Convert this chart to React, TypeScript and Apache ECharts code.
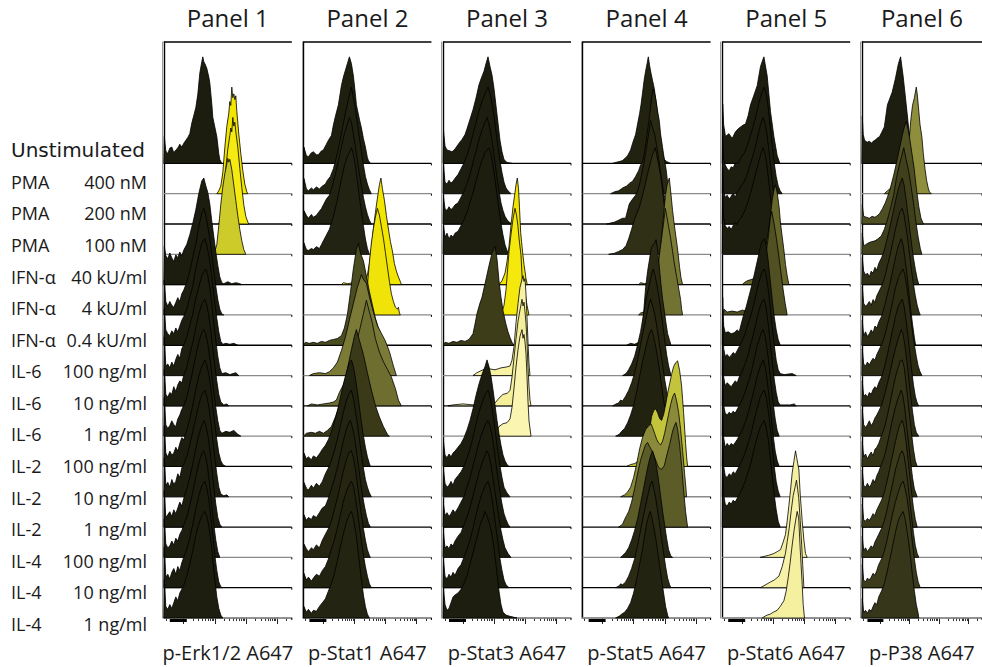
import React, { useEffect, useRef } from "react";
import * as echarts from "echarts";

// ---------------- texts ----------------
const PANEL_TITLES = ["Panel 1", "Panel 2", "Panel 3", "Panel 4", "Panel 5", "Panel 6"];
const AXIS_NAMES = ["p-Erk1/2 A647", "p-Stat1 A647", "p-Stat3 A647", "p-Stat5 A647", "p-Stat6 A647", "p-P38 A647"];
const ROW_NAMES = ["Unstimulated", "PMA", "PMA", "PMA", "IFN-α", "IFN-α", "IFN-α", "IL-6", "IL-6", "IL-6", "IL-2", "IL-2", "IL-2", "IL-4", "IL-4", "IL-4"];
const ROW_DOSES = ["", "400 nM", "200 nM", "100 nM", "40 kU/ml", "4 kU/ml", "0.4 kU/ml", "100 ng/ml", "10 ng/ml", "1 ng/ml", "100 ng/ml", "10 ng/ml", "1 ng/ml", "100 ng/ml", "10 ng/ml", "1 ng/ml"];

// ---------------- axis ticks (channel units) ----------------
const MAJOR_TICKS = [19.8, 51, 82.2, 113.3];
const MINOR_TICKS = [2, 29.2, 34.7, 38.6, 41.6, 44.1, 46.1, 48.0, 49.5, 60.4, 65.9, 69.8, 72.8, 75.3, 77.3, 79.2, 80.7, 91.6, 97.1, 101.0, 104.0, 106.5, 108.5, 110.4, 111.9, 122.7];
const ZERO_BAND = [6, 23];

// ---------------- histograms: [channel, count, channel, count, ...] per row ----------------
const P1 = [
  [0,0, 0.5,28, 2,13, 4,10, 6,16, 8,17, 10,11, 12,14, 14,16, 16,20, 18,17, 20,21, 22,24, 24,27, 26,31, 28,42, 30,50, 32,58, 34,72, 36,94, 38,106, 39,111, 40,106, 41,104, 43,99, 45,90, 46,84, 48,62, 49,48, 51,38, 53,28, 55,10, 56,4, 58,0],
  [53,0, 55,3, 57,8, 59,22, 61,48, 63,70, 65,84, 66,96, 67,92, 68,111, 69,100, 70,104, 71,98, 72,102, 73,86, 75,62, 77,42, 79,24, 81,10, 83,2, 84,0],
  [55,0, 58,10, 60,30, 62,58, 64,78, 66,92, 67,100, 68,96, 69,111, 70,102, 71,106, 72,96, 74,80, 76,58, 78,38, 80,20, 82,8, 84,2, 85,0],
  [50,0, 51,3, 53,10, 55,30, 57,52, 59,70, 61,84, 63,94, 64,100, 65,96, 66,99, 68,88, 70,72, 72,56, 74,40, 76,26, 78,14, 80,5, 82,0],
  [0,0, 0.5,40, 2,30, 4,27, 6,33, 8,28, 10,24, 12,31, 14,28, 16,34, 18,30, 20,36, 23,42, 26,52, 29,64, 32,78, 35,95, 38,108, 40,111, 42,103, 44,96, 46,84, 48,66, 50,50, 52,34, 54,20, 56,8, 58,2, 60,1, 64,3, 68,1, 72,2, 76,1, 78,0],
  [0,0, 0.5,36, 2,14, 4,9, 6,14, 8,10, 10,8, 12,13, 14,18, 16,14, 18,22, 20,26, 23,34, 26,46, 29,60, 32,74, 35,92, 38,106, 40,111, 42,104, 44,92, 46,80, 48,62, 50,46, 52,30, 54,16, 56,6, 58,1, 60,0],
  [0,0, 0.5,38, 2,16, 4,12, 6,10, 8,15, 10,12, 12,18, 14,14, 16,20, 18,26, 20,30, 23,38, 26,50, 29,62, 32,80, 35,94, 38,106, 41,111, 43,104, 45,94, 47,80, 49,62, 51,44, 53,28, 55,14, 57,4, 59,1, 62,2, 66,1, 70,2, 74,0],
  [0,0, 0.5,40, 2,10, 4,12, 6,8, 8,14, 10,10, 12,17, 14,22, 16,18, 18,28, 20,32, 23,40, 26,52, 29,64, 32,80, 35,92, 38,104, 40,108, 42,111, 44,104, 46,92, 48,74, 50,54, 52,36, 54,20, 56,8, 58,2, 62,3, 66,1, 72,3, 75,0],
  [0,0, 0.5,38, 2,12, 4,9, 6,14, 8,12, 10,20, 12,15, 14,22, 16,26, 18,24, 20,32, 23,40, 26,54, 29,66, 32,82, 35,96, 38,106, 41,111, 43,105, 45,94, 47,78, 49,60, 51,42, 53,26, 55,12, 57,4, 60,1, 63,2, 65,0],
  [0,0, 0.5,40, 2,12, 4,8, 6,11, 8,16, 10,12, 12,10, 14,18, 16,22, 18,28, 20,32, 23,40, 26,54, 29,68, 32,84, 35,98, 38,108, 40,111, 42,106, 44,96, 46,82, 48,64, 50,46, 52,30, 54,16, 56,6, 58,3, 62,5, 66,4, 70,6, 74,2, 77,0],
  [0,0, 0.5,42, 2,14, 4,10, 6,16, 8,12, 10,14, 12,20, 14,16, 16,24, 18,30, 20,28, 23,38, 26,50, 29,64, 32,80, 35,94, 38,104, 41,111, 43,106, 45,96, 47,82, 49,62, 51,44, 53,28, 55,14, 57,6, 59,2, 62,0],
  [0,0, 0.5,40, 2,12, 4,15, 6,10, 8,18, 10,13, 12,16, 14,24, 16,20, 18,30, 20,34, 23,42, 26,54, 29,68, 32,82, 35,96, 38,106, 41,111, 43,104, 45,94, 47,78, 49,58, 51,40, 53,24, 55,10, 57,3, 60,1, 63,2, 65,0],
  [0,0, 0.5,38, 2,10, 4,13, 6,16, 8,11, 10,18, 12,14, 14,20, 16,26, 18,22, 20,30, 23,40, 26,52, 29,66, 32,82, 35,96, 38,106, 40,111, 42,106, 44,96, 46,82, 48,62, 50,42, 52,24, 54,10, 56,3, 58,0],
  [0,0, 0.5,40, 2,14, 4,10, 6,12, 8,17, 10,13, 12,20, 14,17, 16,24, 18,28, 20,34, 23,42, 26,54, 29,68, 32,84, 35,98, 38,108, 40,111, 42,104, 44,92, 46,74, 48,54, 50,34, 52,18, 54,6, 56,0],
  [0,0, 0.5,42, 2,11, 4,14, 6,9, 8,16, 10,20, 12,14, 14,22, 16,18, 18,26, 20,32, 23,40, 26,52, 29,66, 32,82, 35,96, 38,106, 41,111, 43,104, 45,92, 47,74, 49,54, 51,34, 53,18, 55,6, 57,1, 59,0],
  [0,0, 0.5,40, 2,12, 4,9, 6,14, 8,10, 10,16, 12,22, 14,18, 16,26, 18,30, 20,34, 23,44, 26,56, 29,70, 32,86, 35,98, 38,106, 41,111, 43,106, 45,96, 47,80, 49,60, 51,40, 53,22, 55,10, 57,3, 59,0],
];

const P2 = [
  [0,0, 0.5,17, 3,8, 5,7, 8,11, 10,12, 13,9, 15,9, 18,13, 20,14, 23,20, 25,24, 28,29, 30,40, 32,49, 35,61, 38,81, 40,90, 42,97, 44,104, 46,111, 48,104, 50,91, 52,72, 53,61, 56,46, 58,37, 60,26, 62,17, 64,6, 65,3, 67,0],
  [0,0, 0.5,16, 3,5, 5,3, 8,6, 10,4, 13,7, 16,5, 19,8, 22,10, 24,14, 27,18, 30,26, 33,38, 36,52, 39,68, 42,84, 45,98, 48,111, 50,100, 52,88, 54,72, 56,58, 58,44, 60,30, 62,18, 64,10, 66,4, 68,0],
  [0,0, 0.5,14, 3,9, 5,6, 8,10, 10,7, 13,9, 15,12, 18,16, 20,20, 23,26, 26,30, 29,40, 32,52, 35,66, 38,80, 41,94, 44,104, 46,111, 48,106, 50,94, 52,80, 54,66, 56,52, 58,40, 60,28, 62,18, 64,10, 66,4, 68,0],
  [0,0, 0.5,12, 3,5, 5,4, 8,6, 10,5, 13,8, 16,6, 18,10, 20,14, 23,20, 26,26, 29,36, 32,48, 35,62, 38,78, 41,92, 44,102, 46,106, 48,111, 50,104, 52,92, 54,76, 56,60, 58,44, 60,30, 62,16, 64,6, 66,0],
  [38,0, 40,2, 44,1, 50,2, 56,1, 60,2, 62,4, 64,10, 66,22, 68,38, 70,58, 72,75, 74,90, 76,104, 77.5,111, 79,100, 81,88, 83,72, 85,58, 87,45, 89,35, 91,22, 93,14, 95,8, 97,3, 98,0],
  [58,0, 60,4, 62,12, 64,30, 66,55, 68,75, 70,90, 72,102, 74,111, 76,104, 78,92, 80,80, 82,65, 84,50, 86,35, 88,22, 90,14, 92,8, 94,6, 95,8, 96,2, 97,0],
  [0,0, 2,3, 6,2, 10,3, 14,2, 18,4, 22,3, 26,5, 30,6, 34,7, 38,10, 41,18, 44,32, 47,55, 50,80, 53,100, 55,106, 57,96, 60,88, 63,72, 66,56, 69,42, 72,28, 75,18, 78,8, 81,0],
  [6,0, 10,2, 16,3, 22,2, 26,4, 30,8, 34,14, 38,26, 42,40, 46,58, 50,75, 54,92, 58,105, 60,100, 63,96, 66,82, 70,66, 74,52, 78,44, 82,36, 86,25, 90,10, 93,0],
  [4,0, 8,2, 14,1, 20,2, 26,3, 30,4, 33,6, 36,14, 40,22, 44,34, 48,48, 52,62, 56,78, 60,96, 63,110, 66,98, 69,86, 72,70, 76,56, 80,46, 84,38, 88,30, 92,18, 95,6, 98,0],
  [0,0, 3,3, 8,4, 12,3, 16,5, 20,3, 24,6, 28,10, 32,20, 36,32, 40,50, 44,70, 48,90, 51,104, 53,111, 56,100, 60,85, 64,66, 68,48, 72,32, 76,20, 80,10, 84,2, 86,0],
  [0,0, 0.5,14, 3,8, 5,10, 8,7, 10,11, 13,9, 16,13, 19,18, 22,22, 25,28, 28,36, 31,46, 34,58, 37,72, 40,86, 43,98, 46,108, 48,111, 50,104, 52,92, 54,78, 56,62, 58,46, 60,32, 62,20, 64,10, 66,3, 67,0],
  [0,0, 0.5,15, 3,9, 5,7, 8,12, 10,9, 13,14, 16,11, 19,16, 22,24, 25,30, 28,38, 31,48, 34,60, 37,74, 40,88, 43,100, 46,108, 48,111, 50,102, 52,90, 54,76, 56,60, 58,44, 60,30, 62,18, 64,10, 66,4, 68,0],
  [0,0, 0.5,13, 3,7, 5,10, 8,8, 10,12, 13,10, 16,15, 19,20, 22,22, 25,30, 28,40, 31,50, 34,62, 37,76, 40,90, 43,102, 46,110, 47,111, 49,104, 51,94, 53,80, 55,64, 57,48, 59,34, 61,22, 63,12, 65,4, 67,0],
  [0,0, 0.5,14, 3,9, 5,6, 8,10, 10,8, 13,13, 16,10, 19,18, 22,24, 25,30, 28,38, 31,50, 34,62, 37,76, 40,90, 43,102, 46,110, 48,111, 50,104, 52,92, 54,76, 56,60, 58,44, 60,30, 62,18, 64,8, 66,2, 67,0],
  [0,0, 0.5,15, 3,8, 5,11, 8,7, 10,10, 13,14, 16,12, 19,18, 22,22, 25,30, 28,40, 31,50, 34,62, 37,76, 40,90, 43,100, 46,108, 48,111, 50,106, 52,94, 54,80, 56,64, 58,48, 60,34, 62,22, 64,12, 66,4, 68,0],
  [0,0, 0.5,12, 3,6, 5,9, 8,5, 10,8, 13,7, 16,12, 19,16, 22,20, 25,28, 28,36, 31,46, 34,60, 37,74, 40,88, 43,100, 46,108, 48,111, 50,104, 52,92, 54,76, 56,58, 58,40, 60,24, 62,12, 64,4, 66,0],
];

const P3 = [
  [0,0, 0.5,34, 2,18, 4,14, 7,13, 9,12, 12,15, 14,18, 16,21, 19,25, 22,30, 24,36, 27,46, 30,56, 33,68, 36,82, 38,88, 41,96, 43,104, 45,111, 47,101, 49,92, 51,78, 53,60, 55,42, 57,24, 59,12, 61,4, 64,1, 69,0],
  [0,0, 0.5,30, 2,12, 4,10, 6,14, 8,11, 10,13, 12,16, 15,20, 18,26, 21,32, 24,40, 27,50, 30,62, 33,74, 36,86, 39,96, 42,104, 45,111, 47,104, 49,94, 51,80, 53,64, 55,48, 57,34, 59,22, 61,12, 63,6, 65,3, 67,1, 68,0],
  [0,0, 0.5,28, 2,16, 4,14, 6,18, 8,15, 10,17, 12,20, 15,22, 18,28, 21,34, 24,42, 27,52, 30,64, 33,76, 36,88, 39,98, 42,106, 44,111, 46,104, 48,94, 50,80, 52,64, 54,48, 56,34, 58,22, 60,14, 62,8, 65,3, 69,0],
  [0,0, 0.5,30, 2,18, 4,22, 6,16, 8,20, 10,18, 12,22, 15,24, 18,30, 21,36, 24,44, 27,54, 30,64, 33,76, 36,88, 39,98, 42,106, 46,111, 48,104, 50,92, 52,78, 54,62, 56,46, 58,32, 60,20, 62,10, 64,4, 67,0],
  [56,0, 59,4, 62,12, 64,24, 66,40, 68,62, 70,81, 72,96, 73,104, 74.3,111, 75.5,100, 76.5,80, 77.7,54, 79,40, 80,30, 81,21, 82,14, 83,6, 84.3,0],
  [58,0, 61,10, 63,26, 66,66, 68,84, 70,100, 72,111, 73.5,104, 75,92, 76,80, 78,62, 79.3,36, 81,26, 82.7,19, 84,10, 86,0],
  [0,0, 2,3, 6,2, 10,4, 14,3, 18,5, 22,4, 26,6, 30,12, 32,22, 34,33, 37,44, 39,50, 42,64, 46,83, 49,96, 52,103, 54,90, 56,67, 58,50, 60,36, 62.7,23, 65,14, 67,8, 69,3, 71,0],
  [30,0, 34,3, 40,6, 46,7, 52,6, 58,8, 64,9, 67,10, 69,16, 71,30, 73,55, 75,75, 77,92, 79,100, 80,104, 81,98, 82,101, 83,85, 84,60, 85,35, 86,12, 87,0],
  [5,0, 10,1, 20,2, 30,1, 40,2, 48,2, 52,3, 56,8, 60,12, 64,13, 67,16, 69,30, 71,50, 73,70, 75,88, 77,100, 79,111, 80,104, 81,108, 82,98, 83,86, 84,66, 85,40, 86,20, 87,6, 88,0],
  [25,0, 30,2, 36,1, 42,2, 48,2, 52,3, 56,10, 60,13, 64,14, 67,18, 69,30, 71,50, 73,72, 75,90, 77,104, 79,111, 80,102, 81,106, 82,98, 83,86, 84,62, 85,36, 86,16, 88,0],
  [0,0, 0.5,26, 2,12, 4,9, 6,13, 8,10, 10,14, 12,16, 15,20, 18,24, 21,30, 24,38, 27,48, 30,60, 33,74, 36,86, 39,96, 42,104, 44,111, 46,104, 48,94, 50,80, 52,64, 54,48, 56,34, 58,22, 60,12, 62,6, 64,2, 66,0],
  [0,0, 0.5,28, 2,14, 4,10, 6,12, 8,16, 10,12, 12,18, 15,22, 18,26, 21,32, 24,40, 27,50, 30,62, 33,76, 36,88, 39,98, 42,106, 45,111, 47,104, 49,92, 51,78, 53,62, 55,46, 57,32, 59,20, 61,10, 64,4, 67,0],
  [0,0, 0.5,24, 2,12, 4,15, 6,11, 8,14, 10,18, 12,15, 15,20, 18,26, 21,32, 24,42, 27,52, 30,64, 33,76, 36,88, 39,98, 42,106, 45,111, 47,106, 49,96, 51,82, 53,66, 55,50, 57,36, 59,24, 61,14, 63,8, 65,3, 67,0],
  [0,0, 0.5,26, 2,10, 4,12, 6,9, 8,14, 10,12, 12,17, 15,22, 18,26, 21,34, 24,42, 27,52, 30,64, 33,76, 36,88, 39,98, 42,106, 44,111, 46,106, 48,96, 50,82, 52,68, 54,54, 56,40, 58,28, 60,18, 62,10, 65,4, 68,0],
  [0,0, 0.5,28, 2,12, 4,9, 6,14, 8,11, 10,16, 12,13, 15,20, 18,24, 21,32, 24,40, 27,50, 30,62, 33,76, 36,88, 39,98, 42,106, 45,111, 47,104, 49,92, 51,78, 53,62, 55,46, 57,30, 59,18, 61,8, 63,3, 66,0],
  [0,0, 0.5,30, 2,14, 4,8, 6,10, 8,16, 10,22, 12,24, 15,26, 18,30, 21,36, 24,44, 27,56, 30,68, 33,80, 36,92, 38,100, 40,104, 42,111, 44,106, 46,100, 48,92, 50,80, 52,64, 54,46, 56,28, 58,14, 60,6, 63,3, 66,2, 70,1, 74,0],
];

const P4 = [
  [30,0, 33,1, 37,2, 40,3, 43,6, 45,8, 48,14, 50,21, 53,30, 55,41, 57,52, 58.4,61, 60,74, 61.7,88, 63,96, 64.5,104, 65.7,111, 67,102, 68.4,94, 70,86, 71.7,78, 73.5,64, 75,51, 77,32, 78.4,21, 80,10, 81.7,4, 84,2, 88,0],
  [28,0, 32,2, 36,3, 40,6, 44,8, 47,11, 50,13, 53,18, 56,24, 58,30, 60,33, 62,44, 64,58, 66,74, 68,90, 69,100, 70.7,109, 72,104, 73.3,98, 75,86, 76.7,76, 78,62, 80,48, 81.7,36, 83.4,26, 85,12, 86.7,3, 88,0],
  [24,0, 28,1, 32,2, 36,4, 40,6, 43,6, 46.7,21, 50,26, 53,30, 55,34, 58,46, 61,62, 64,80, 66,94, 68,108, 70,100, 72,94, 74,82, 76,68, 78,54, 80,40, 82,28, 84,16, 86,6, 87,0],
  [26,0, 31.7,1, 36,3, 40,5, 43.4,9, 46,16, 49,26, 51.7,36, 54,42, 56.7,49, 59,58, 62,70, 65,84, 68,96, 70,104, 72.7,111, 74,104, 76,94, 78,82, 80,66, 82,48, 84,30, 86,14, 88,4, 90,0],
  [56,0, 58,2, 62,1, 66,2, 70,5, 72,10, 74,18, 76.7,27, 78,40, 80,60, 81.7,81, 83,94, 84.5,104, 86.7,111, 88,98, 90,77, 92,60, 95,37, 97,18, 98.4,7, 100,0],
  [56,0, 58,2, 61,3, 64,6, 68,12, 71,22, 74,40, 76,56, 78,72, 80,88, 81.5,100, 82.7,111, 84,104, 86,92, 88,80, 90,66, 92,52, 94,40, 96,28, 98,16, 99,6, 100,0],
  [44,0, 48,2, 52,1, 56,3, 58.4,4, 60,18, 61.7,43, 63,60, 65,77, 67,90, 68.4,100, 70,104, 72,106, 73.4,110, 75,100, 76.7,82, 78.4,63, 80,48, 81.7,36, 83.4,23, 85,12, 87,5, 88.4,0],
  [40,0, 43.4,2, 46,6, 49,12, 52,20, 55,32, 58,46, 61,64, 64,82, 67,96, 69,106, 70.7,111, 72.5,104, 74,96, 76,84, 78,70, 80,54, 82,38, 84,22, 86,10, 88.4,0],
  [30,0, 33.4,2, 36,3, 38,6, 40,5, 43,10, 46,16, 49,24, 52,34, 55,48, 58,64, 61,80, 64,94, 66,104, 68,111, 70,104, 72,96, 74,84, 76,70, 78,56, 80,42, 82,28, 84,16, 86,6, 88,0],
  [33,0, 36.7,2, 39,5, 42,8, 45,14, 48,22, 51,32, 54,46, 57,62, 60,78, 63,92, 65,100, 67,108, 69,111, 71,104, 73,94, 75,82, 77,68, 79,52, 81,38, 83,24, 85,10, 86.7,0],
  [44,0, 48,2, 52,3, 55,5, 58,6, 61,8, 63,12, 65,22, 67,38, 69,52, 71,58, 73,60, 75,56, 77,50, 79,48, 81,54, 83,64, 85,76, 87,86, 89,96, 91,104, 93,108, 95,110, 97,100, 99,84, 100,70, 101,56, 102,40, 103,24, 104,10, 105,0],
  [38,0, 42,2, 45,5, 48,10, 51,20, 54,34, 57,50, 60,62, 63,70, 66,74, 68.4,76, 70,72, 72,66, 74,60, 76,56, 78,54, 80,58, 82,66, 84,76, 86,86, 88,96, 90,104, 92,108, 94,100, 96,88, 98,70, 100,48, 102,24, 103.4,8, 104,0],
  [36,0, 40,3, 42,8, 44,12, 46,16, 49,26, 52,40, 55,56, 58,70, 61,80, 63,86, 65,88, 67,84, 70,78, 73,70, 76,62, 79,60, 81.7,64, 84,74, 87,86, 90,100, 92,106, 93.4,109, 95,102, 97,86, 99,64, 101,38, 103,16, 105,0],
  [38,0, 40,2, 43,5, 46,10, 49,18, 52,28, 55,40, 58,56, 61,72, 64,88, 66,98, 68,106, 70,111, 72,104, 74,94, 76,80, 78,64, 80,48, 82,34, 84,20, 86,8, 88,2, 90,0],
  [33,0, 36.7,2, 38,4, 40,3, 43,6, 46,12, 49,20, 52,30, 55,44, 58,60, 61,76, 64,90, 66,100, 68,108, 69.5,111, 71,104, 73,94, 75,80, 77,66, 79,50, 81,36, 83,22, 85,10, 87,3, 88.4,0],
  [33,0, 36.7,2, 39,4, 42,6, 45,10, 48,16, 51,26, 54,40, 57,56, 60,72, 62,86, 64,98, 66,106, 67.5,111, 69,106, 71,96, 73,84, 75,70, 77,54, 79,40, 81,26, 83,12, 85,3, 86,0],
];

const P5 = [
  [0,0, 0.5,62, 1.5,40, 3.3,28, 6.7,31, 10,26, 13.3,33, 16,36, 18.3,38, 21,40, 23.3,41, 26,50, 28.3,61, 31.7,71, 35,81, 38.3,101, 41.7,111, 45,91, 48.3,54, 51.7,28, 55,8, 57.7,0],
  [0,0, 0.5,60, 1.5,36, 3,30, 5,26, 7,24, 9,28, 11,27, 13,32, 15,30, 17,34, 19,38, 22,42, 25,50, 28,60, 31,70, 34,82, 37,96, 40,106, 42,111, 44,104, 46,90, 48,70, 50,50, 52,32, 54,18, 56,8, 58,3, 60,0],
  [0,0, 0.5,58, 1.5,34, 3,28, 5,30, 7,26, 9,29, 11,32, 13,28, 15,33, 17,36, 19,40, 22,44, 25,52, 28,62, 31,72, 34,84, 37,98, 39,106, 41,111, 43,104, 45,92, 47,74, 49,54, 51,36, 53,20, 55,8, 57,2, 59,0],
  [0,0, 0.5,60, 1.5,38, 3,30, 5,27, 7,29, 9,26, 11,30, 13,33, 15,31, 17,36, 19,38, 22,44, 25,52, 28,62, 31,74, 34,86, 37,98, 39,106, 41,111, 43,104, 45,90, 47,72, 49,52, 51,34, 53,18, 55,8, 57,2, 59,0],
  [20,0, 22,2, 25,4, 28,5, 31,6, 34,9, 37,14, 40,22, 43,36, 46,54, 48,70, 50,88, 52,100, 53,104, 55,96, 57,80, 58.3,64, 60,50, 61.7,36, 63.3,21, 65,9, 66.7,0],
  [0,0, 2,6, 5,3, 10,4, 15,3, 20,5, 25,4, 28,6, 31,10, 34,16, 37,26, 40,40, 43,58, 46,80, 48,100, 49.5,108, 51,100, 53,88, 55,74, 57,58, 59,42, 61,26, 63,12, 65,0],
  [0,0, 0.5,50, 1.5,20, 3,13, 6,14, 9,12, 12,13, 15,16, 17,14, 19,22, 21,30, 24,40, 27,52, 30,64, 33,78, 36,92, 38,102, 40,108, 42,111, 44,104, 46,88, 48,68, 50,48, 52,30, 54,16, 56,6, 58,0],
  [0,0, 0.5,55, 1.5,28, 3,20, 5,22, 7,19, 9,21, 11,24, 13,22, 15,26, 17,30, 20,36, 23,44, 26,54, 29,64, 32,76, 35,90, 38,102, 40,108, 42,111, 44,104, 46,90, 48,70, 50,50, 52,32, 54,16, 56,6, 58,2, 62,1, 70,2, 72,1, 74,0],
  [0,0, 0.5,52, 1.5,30, 3,21, 5,24, 7,22, 9,20, 11,23, 13,26, 15,24, 17,30, 20,36, 23,44, 26,54, 29,66, 32,78, 35,92, 38,104, 40,109, 42,111, 44,102, 46,86, 48,66, 50,46, 52,28, 54,14, 56,4, 58,1, 68,1, 72,2, 74,0],
  [0,0, 0.5,56, 1.5,32, 3,24, 5,22, 7,25, 9,23, 11,26, 13,24, 15,28, 17,32, 20,38, 23,46, 26,56, 29,66, 32,80, 35,94, 38,104, 40,110, 41,111, 43,104, 45,90, 47,72, 49,52, 51,34, 53,18, 55,6, 57,0],
  [0,0, 0.5,54, 1.5,30, 3,20, 5,24, 7,21, 9,24, 11,22, 13,25, 15,28, 17,32, 20,38, 23,46, 26,56, 29,68, 32,80, 35,94, 38,104, 41,111, 43,104, 45,90, 47,72, 49,52, 51,32, 53,16, 55,6, 57,0],
  [0,0, 0.5,56, 1.5,32, 3,22, 5,20, 7,24, 9,22, 11,26, 13,24, 15,28, 17,32, 20,38, 23,46, 26,56, 29,66, 32,80, 35,92, 38,104, 40,108, 42,111, 44,104, 46,90, 48,72, 50,52, 52,32, 54,16, 56,6, 58,0],
  [0,0, 0.5,58, 1.5,34, 3,24, 5,22, 7,26, 9,24, 11,28, 13,26, 15,30, 17,34, 20,40, 23,48, 26,58, 29,68, 32,82, 35,94, 38,104, 40,108, 42,111, 44,104, 46,92, 48,74, 50,54, 52,34, 54,18, 56,6, 58,0],
  [38,0, 41.7,1, 46,2, 51.7,4, 55,6, 58.3,8, 61,16, 63.3,24, 65,38, 66.7,54, 68.3,70, 70,88, 71.7,100, 73.3,111, 74.5,104, 75.5,98, 76.7,91, 78,66, 80,38, 81.7,18, 83.3,4, 85,0],
  [38,0, 41.7,2, 45,4, 48.3,6, 52,8, 56.7,12, 60,22, 63.3,36, 65,48, 67,62, 69,80, 71,96, 72.7,104, 74.3,112, 75.5,102, 76.5,94, 78,70, 79.5,44, 80.5,24, 81.7,0],
  [40,0, 43,2, 45,3, 48,4, 51,6, 55,8, 58,12, 61.7,18, 64,28, 66,42, 68,58, 70,76, 72,92, 73.5,102, 75,111, 76.5,104, 78,72, 80,35, 81,14, 82.3,0],
];

const P6 = [
  [0,0, 0.5,49, 1.5,30, 3,24, 5.7,22, 8,23, 10.7,21, 12,23, 14,24, 16,26, 19,28, 21,32, 24,38, 27.3,61, 30,68, 32.3,74, 35.7,88, 39,104, 41.3,111, 44,91, 47,64, 50,36, 53,14, 56,0],
  [24,0, 27.3,3, 31,6, 34,8, 38,6, 42,10, 45,18, 48,30, 50,50, 52,75, 54,92, 56,100, 58,111, 59,104, 60.7,86, 62,72, 64,59, 65.5,42, 67.3,26, 69,14, 70.7,6, 72,2, 74,0],
  [0,0, 0.5,20, 2,8, 5,7, 8,6, 11,8, 14,7, 17,9, 19,11, 22,16, 25,22, 27.3,28, 30,36, 34,51, 37,64, 40.7,81, 43,92, 45,100, 47.3,107, 49,100, 50.7,91, 53,76, 55.7,58, 58,38, 60.7,18, 63,6, 65.7,0],
  [0,0, 0.5,22, 2,9, 4,10, 7.3,12, 10,13, 14,14, 17,16, 20.7,19, 24,26, 27.3,36, 30,46, 34,62, 37,80, 40.7,96, 44.7,111, 47,100, 50,86, 52.3,72, 55,54, 57.3,36, 60,18, 62.3,6, 64,0],
  [0,0, 0.5,28, 2,14, 4,10, 6,12, 8,8, 10,14, 12,12, 14,18, 16,15, 18,22, 21,28, 24,36, 27,48, 30,60, 33,74, 36,88, 39,100, 41,106, 43,111, 45,104, 47,90, 49,74, 51,58, 53,42, 55,28, 57,16, 59,6, 60.7,0],
  [0,0, 0.5,30, 2,12, 4,9, 6,11, 8,14, 10,10, 12,16, 14,13, 16,20, 18,24, 21,30, 24,38, 27,50, 30,62, 33,76, 36,90, 39,102, 41,108, 43,111, 45,104, 47,92, 49,78, 51,62, 53,46, 55,32, 57,20, 59,10, 61,3, 62.3,0],
  [0,0, 0.5,26, 2,10, 4,14, 6,9, 8,12, 10,16, 12,13, 14,20, 16,18, 18,24, 21,30, 24,40, 27,52, 30,64, 33,78, 36,92, 39,104, 42,111, 44,104, 46,90, 48,74, 50,56, 52,38, 54,22, 56,8, 57.3,0],
  [0,0, 0.5,28, 2,12, 4,10, 6,14, 8,11, 10,15, 12,18, 14,16, 16,22, 18,26, 21,32, 24,40, 27,52, 30,64, 33,78, 36,92, 39,102, 42,108, 44,111, 46,104, 48,92, 50,78, 52,62, 54,46, 56,32, 58,20, 60,10, 62,4, 64,0],
  [0,0, 0.5,26, 2,10, 4,12, 6,9, 8,14, 10,12, 12,17, 14,20, 16,18, 18,24, 21,30, 24,40, 27,52, 30,66, 33,80, 36,94, 39,104, 41,108, 43,111, 45,104, 47,90, 49,74, 51,56, 53,38, 55,22, 57,10, 59,3, 60.7,0],
  [0,0, 0.5,28, 2,12, 4,9, 6,12, 8,16, 10,11, 12,14, 14,19, 16,22, 18,26, 21,32, 24,42, 27,54, 30,66, 33,80, 36,92, 39,102, 42,111, 44,106, 46,94, 48,78, 50,60, 52,42, 54,26, 56,12, 58,4, 60.7,0],
  [0,0, 0.5,26, 2,10, 4,13, 6,8, 8,12, 10,15, 12,11, 14,18, 16,20, 18,24, 21,32, 24,40, 27,52, 30,66, 33,80, 36,94, 39,104, 41,110, 43,111, 45,104, 47,88, 49,70, 51,52, 53,34, 55,18, 57,6, 59,0],
  [0,0, 0.5,28, 2,12, 4,10, 6,14, 8,10, 10,13, 12,18, 14,15, 16,22, 18,26, 21,34, 24,42, 27,54, 30,68, 33,82, 36,94, 39,104, 42,111, 44,104, 46,90, 48,72, 50,54, 52,36, 54,20, 56,8, 59,0],
  [0,0, 0.5,24, 2,8, 4,6, 6,9, 8,7, 10,10, 12,14, 14,12, 16,18, 18,22, 21,28, 24,36, 27,48, 30,62, 33,76, 36,90, 39,102, 41,108, 43,111, 45,104, 47,90, 49,72, 51,54, 53,36, 55,20, 57,8, 59,0],
  [0,0, 0.5,22, 2,7, 4,10, 6,6, 8,9, 10,12, 12,10, 14,16, 16,20, 18,24, 21,30, 24,38, 27,50, 30,64, 33,78, 36,92, 39,102, 41,108, 43,111, 45,106, 47,94, 49,78, 51,60, 53,42, 55,26, 57,12, 59,4, 60.7,0],
  [0,0, 0.5,24, 2,8, 4,6, 6,10, 8,8, 10,11, 12,15, 14,13, 16,18, 18,24, 21,30, 24,38, 27,50, 30,64, 33,78, 36,90, 39,100, 42,108, 44,111, 46,104, 48,94, 50,80, 52,64, 54,46, 56,30, 58,16, 60,6, 62.3,0],
  [0,0, 0.5,20, 2,6, 4,8, 6,5, 8,9, 10,7, 12,12, 14,16, 16,14, 18,22, 21,28, 24,36, 27,48, 30,62, 33,76, 36,90, 39,102, 42,108, 44,111, 46,104, 48,92, 50,78, 52,62, 54,44, 56,28, 58,14, 60,5, 60.7,0],
];

const HISTOGRAMS = [P1, P2, P3, P4, P5, P6];

// ---------------- fill colours per row ----------------
const DK = "#1c1c0f";
const P1_COLORS = [DK, "#f2e500", "#f5ea12", "#cdcb2a", DK, "#1d1d10", DK, "#1e1e10", DK, "#1d1d10", DK, "#1e1e10", DK, "#1d1d10", DK, "#1e1e10"];
const P2_COLORS = ["#1f1f10", "#222212", "#212111", "#232313", "#f2e600", "#f0e30a", "#4c4c21", "#7b7b37", "#6e6e30", "#3a3a19", "#222211", "#242412", "#222211", "#252512", "#222211", "#242412"];
const P3_COLORS = [DK, "#1e1e10", DK, "#1e1e10", "#f2e600", "#f4e80c", "#3d3d1a", "#f8f2a4", "#f5ef9c", "#faf5b0", DK, "#1e1e10", DK, "#1e1e10", DK, "#1e1e10"];
const P4_COLORS = ["#222211", "#2a2a14", "#262612", "#303017", "#7d7d38", "#727232", "#2a2a14", "#252512", "#2a2a14", "#222211", "#c4c43c", "#8a8a3a", "#5c5c29", "#262612", "#2b2b15", "#232311"];
const P5_COLORS = [DK, "#1e1e10", DK, "#1e1e10", "#66662a", "#505022", DK, "#1e1e10", DK, "#1e1e10", DK, "#1e1e10", DK, "#f5f0a0", "#f7f2a8", "#f5f0a0"];
const P6_COLORS = ["#1e1e10", "#8e8e3c", "#4f4f24", "#40401d", "#2e2e16", "#303017", "#2a2a14", "#2c2c15", "#262613", "#2e2e16", "#333318", "#2f2f17", "#3a3a1b", "#35351a", "#3c3c1d", "#36361a"];
const COLORS = [P1_COLORS, P2_COLORS, P3_COLORS, P4_COLORS, P5_COLORS, P6_COLORS];

// ---------------- layout ----------------
const W = 982;
const H = 667;
const X_MAX = 128;
const Y_MAX = 600;
const ROW_GAP = 31.57;
const N_ROWS = 16;
const GRID_TOP = 31.3;
const GRID_H = 600;
const GRID_W = 128;
const PANEL_LEFT0 = 163.8;
const PANEL_STEP = 139.6;
const FONT = "'Open Sans', 'DejaVu Sans', sans-serif";

const baseOf = (i: number) => (N_ROWS - 1 - i) * ROW_GAP;
const off = () => ({ show: false });

function buildOption() {
  const grid: any[] = [];
  const xAxis: any[] = [];
  const yAxis: any[] = [];
  const series: any[] = [];

  for (let p = 0; p < 6; p++) {
    grid.push({ left: PANEL_LEFT0 + PANEL_STEP * p, top: GRID_TOP, width: GRID_W, height: GRID_H, containLabel: false });
    xAxis.push({
      gridIndex: p, type: "value", min: 0, max: X_MAX, position: "bottom",
      axisLine: { show: true, onZero: false, lineStyle: { color: "#8f8f8f", width: 1.5 } },
      axisTick: { show: true, customValues: MAJOR_TICKS, length: 6, lineStyle: { color: "#222", width: 1 } },
      axisLabel: off(), splitLine: off(), splitArea: off(), minorTick: off(),
      name: AXIS_NAMES[p], nameLocation: "middle", nameGap: 24,
      nameTextStyle: { fontSize: 20, color: "#1a1a1a", fontFamily: FONT },
    });
    xAxis.push({
      gridIndex: p, type: "value", min: 0, max: X_MAX, position: "bottom",
      axisLine: { show: false, onZero: false },
      axisTick: { show: true, customValues: MINOR_TICKS, length: 3, lineStyle: { color: "#333", width: 1 } },
      axisLabel: off(), splitLine: off(), splitArea: off(), minorTick: off(),
    });
    xAxis.push({
      gridIndex: p, type: "value", min: 0, max: X_MAX, position: "top",
      axisLine: { show: false, onZero: false },
      axisTick: off(), axisLabel: off(), splitLine: off(), splitArea: off(), minorTick: off(),
      name: PANEL_TITLES[p], nameLocation: "middle", nameGap: 13,
      nameTextStyle: { fontSize: 24, color: "#1a1a1a", fontFamily: FONT },
    });
    yAxis.push({
      gridIndex: p, type: "value", min: 0, max: Y_MAX, position: "left",
      axisLine: { show: true, onZero: false, lineStyle: { color: "#000", width: 1.4 } },
      axisTick: off(), axisLabel: off(), splitLine: off(), splitArea: off(), minorTick: off(),
    });
    yAxis.push({
      gridIndex: p, type: "value", min: 0, max: Y_MAX, position: "left", offset: 1.6,
      axisLine: { show: true, onZero: false, lineStyle: { color: "#9a9a9a", width: 1 } },
      axisTick: off(), axisLabel: off(), splitLine: off(), splitArea: off(), minorTick: off(),
    });

    const hist = HISTOGRAMS[p];
    const cols = COLORS[p];
    series.push({
      type: "custom",
      coordinateSystem: "cartesian2d",
      xAxisIndex: p * 3,
      yAxisIndex: p * 2,
      silent: true,
      clip: false,
      data: hist.map((_, i) => [i]),
      renderItem: (params: any, api: any) => {
        const i = params.dataIndex;
        const pts = hist[i];
        const base = baseOf(i);
        const poly: number[][] = [];
        poly.push(api.coord([pts[0], base]));
        for (let k = 0; k < pts.length; k += 2) poly.push(api.coord([pts[k], base + pts[k + 1]]));
        poly.push(api.coord([pts[pts.length - 2], base]));
        const l0 = api.coord([0, base]);
        const l1 = api.coord([X_MAX, base]);
        const children: any[] = [];
        if (i === 0) {
          const t0 = api.coord([0, Y_MAX]);
          const t1 = api.coord([X_MAX, Y_MAX]);
          children.push({ type: "line", shape: { x1: t0[0], y1: t0[1], x2: t1[0], y2: t1[1] }, style: { stroke: "#000", lineWidth: 1.3 } });
        }
        children.push({ type: "line", shape: { x1: l0[0], y1: l0[1], x2: l1[0], y2: l1[1] }, style: { stroke: i % 2 ? "#8a8a8a" : "#000", lineWidth: 1.3 } });
        children.push({ type: "line", shape: { x1: l1[0], y1: l1[1], x2: l1[0], y2: l1[1] + 2 }, style: { stroke: "#000", lineWidth: 1 } });
        children.push({ type: "polygon", shape: { points: poly }, style: { fill: cols[i], stroke: "#000", lineWidth: 0.8, lineJoin: "round" } });
        return { type: "group", children };
      },
    });
    series.push({
      type: "custom",
      coordinateSystem: "cartesian2d",
      xAxisIndex: p * 3,
      yAxisIndex: p * 2,
      silent: true,
      clip: false,
      data: [ZERO_BAND],
      renderItem: (params: any, api: any) => {
        const a = api.coord([api.value(0), 0]);
        const b = api.coord([api.value(1), 0]);
        return { type: "rect", shape: { x: a[0], y: a[1] + 1, width: b[0] - a[0], height: 3 }, style: { fill: "#000" } };
      },
    });
  }

  const graphic: any[] = [];
  for (let i = 0; i < N_ROWS; i++) {
    const y = GRID_TOP + GRID_H * (1 - baseOf(i) / Y_MAX) - 7.5;
    const first = i === 0;
    graphic.push({ type: "text", x: 11, y, style: { text: ROW_NAMES[i], fontSize: first ? 20 : 18, fontFamily: first ? "'DejaVu Sans', sans-serif" : FONT, fill: "#1a1a1a", align: "left", verticalAlign: "middle" } });
    if (ROW_DOSES[i]) graphic.push({ type: "text", x: 147, y, style: { text: ROW_DOSES[i], fontSize: 18, fontFamily: FONT, fill: "#1a1a1a", align: "right", verticalAlign: "middle" } });
  }

  return { animation: false, backgroundColor: "#fff", grid, xAxis, yAxis, series, graphic };
}

export default function App() {
  const ref = useRef<HTMLDivElement>(null);
  useEffect(() => {
    if (!ref.current) return;
    const chart = echarts.init(ref.current, undefined, { renderer: "svg" });
    chart.setOption(buildOption() as any);
    return () => chart.dispose();
  }, []);
  return <div ref={ref} style={{ position: "absolute", left: 0, top: 0, width: W, height: H, background: "#fff" }} />;
}
